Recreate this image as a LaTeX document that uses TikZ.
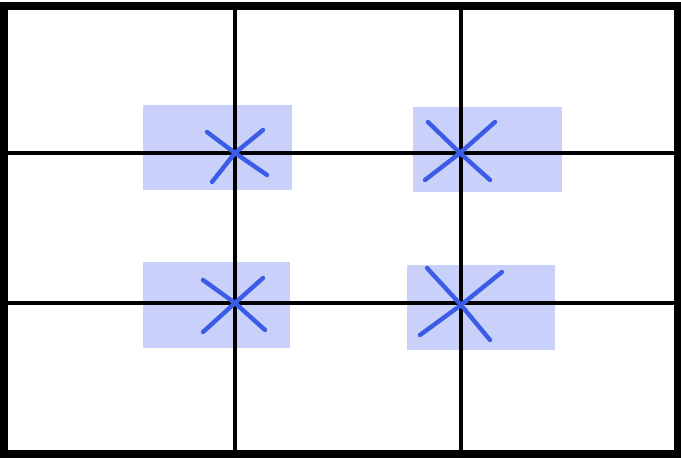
\documentclass[tikz,border=0pt]{standalone}
\usetikzlibrary{calc}

\begin{document}
\begin{tikzpicture}[x=0.02cm, y=-0.02cm]
\definecolor{Shade}{HTML}{C9D1FA}\definecolor{Cross}{HTML}{3A5CE6}
\tikzset{gridline/.style={line width=2.6pt, black}, cross/.style={line width=2.5pt, Cross, line cap=round}}
\useasboundingbox (0,0) rectangle (681,459);
\fill[white] (0,0) rectangle (681,459);
\coordinate (A) at (235,153); \coordinate (B) at (460,153); \coordinate (C) at (235,303); \coordinate (D) at (461,305);
% shaded patches round each crossing
\fill[Shade] (143,105) rectangle (292,190); \fill[Shade] (413,107) rectangle (562,192);
\fill[Shade] (143,262) rectangle (290,348); \fill[Shade] (407,265) rectangle (555,350);
% grid
\draw[gridline] (235,6)--(235,454); \draw[gridline] (461,6)--(461,454);
\draw[gridline] (4,153)--(678,153); \draw[gridline] (4,303)--(678,303);
\draw[line width=4pt] (4,6) rectangle (678,454);
% crosses
\draw[cross] (207,132)--(A)--(267,175); \draw[cross] (212,182)--(A)--(263,130);
\draw[cross] (428,122)--(B)--(490,180); \draw[cross] (425,180)--(B)--(495,122);
\draw[cross] (203,280)--(C)--(265,330); \draw[cross] (203,332)--(C)--(263,278);
\draw[cross] (427,268)--(D)--(490,340); \draw[cross] (420,335)--(D)--(502,272);
\end{tikzpicture}
\end{document}
